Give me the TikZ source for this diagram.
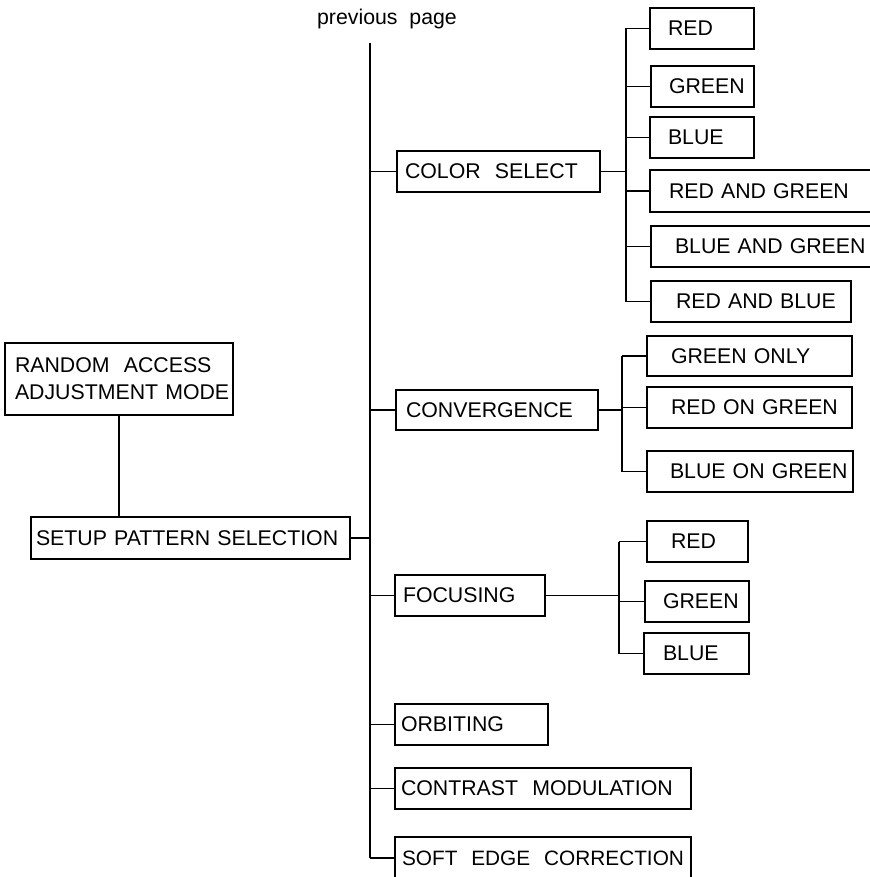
\documentclass[tikz,border=0pt]{standalone}
\usepackage{fontspec}
\setmainfont{Liberation Sans}
\tikzset{box/.style={draw, anchor=north west, inner sep=0pt, outer sep=0pt, align=left,
  execute at begin node={\leftskip=#1pt\rightskip=0pt minus 60pt\hyphenpenalty=10000}}}

\begin{document}
\begin{tikzpicture}[x=1pt, y=-1pt, line width=1.3pt, font=\fontsize{21.3}{27}\selectfont]
\useasboundingbox (0,0) rectangle (869,877);

\node[anchor=base, inner sep=0pt] (prev) at (387,25) {previous\ \ page};
\coordinate (top) at (370,43);

% left part
\node[box=10, text width=228pt, minimum height=72pt] (rand) at (5,343) {RANDOM\ \ ACCESS\\ADJUSTMENT MODE};
\node[box=5, text width=319pt, minimum height=42pt] (setup) at (31,517) {SETUP PATTERN SELECTION};
\draw (rand.south) -- (rand.south |- setup.north);
\draw (setup.east) -- (setup.east -| top);

% main branches
\node[box=8, text width=203pt, minimum height=41pt] (colsel) at (397,151) {COLOR\ \ SELECT};
\node[box=10, text width=202pt, minimum height=40pt] (conv) at (396,390) {CONVERGENCE};
\node[box=8, text width=150pt, minimum height=41pt] (focus) at (395,575) {FOCUSING};
\node[box=6, text width=153pt, minimum height=41pt] (orbit) at (395,704) {ORBITING};
\node[box=6, text width=296pt, minimum height=41pt] (contrast) at (395,768) {CONTRAST\ \ MODULATION};
\node[box=7, text width=296pt, minimum height=42pt, font=\fontsize{20.8}{27}\selectfont] (soft) at (395,837) {SOFT\ \ EDGE\ \ CORRECTION};
\draw (top) -- (soft.west -| top);
\foreach \n in {colsel,conv,focus,orbit,contrast,soft}
  \draw (\n.west) -- (\n.west -| top);

% color select
\coordinate (cbus) at (626,0);
\node[box=18, text width=104pt, minimum height=41pt] (red1) at (650,8) {RED};
\node[box=18, text width=103pt, minimum height=41pt] (green1) at (651,66) {GREEN};
\node[box=18, text width=104pt, minimum height=41pt] (blue1) at (650,117) {BLUE};
\node[box=19, text width=225pt, minimum height=42pt] (redgreen) at (650,170) {RED AND GREEN};
\node[box=24, text width=225pt, minimum height=41pt] (bluegreen) at (651,226) {BLUE AND GREEN};
\node[box=25, text width=200pt, minimum height=41pt] (redblue) at (651,281) {RED AND BLUE};
\draw (red1.west -| cbus) -- (redblue.west -| cbus);
\draw (colsel.east) -- (colsel.east -| cbus);
\foreach \n in {red1,green1,blue1,redgreen,bluegreen,redblue}
  \draw (\n.west) -- (\n.west -| cbus);

% convergence
\coordinate (vbus) at (622,0);
\node[box=24, text width=205pt, minimum height=40pt] (gonly) at (647,336) {GREEN ONLY};
\node[box=24, text width=205pt, minimum height=41pt] (rong) at (647,387) {RED ON GREEN};
\node[box=23, text width=206pt, minimum height=41pt] (bong) at (647,451) {BLUE ON GREEN};
\draw (gonly.west -| vbus) -- (bong.west -| vbus);
\draw (conv.east) -- (conv.east -| vbus);
\foreach \n in {gonly,rong,bong}
  \draw (\n.west) -- (\n.west -| vbus);

% focusing
\coordinate (fbus) at (619,0);
\node[box=24, text width=101pt, minimum height=41pt] (fred) at (647,521) {RED};
\node[box=18, text width=104pt, minimum height=41pt] (fgreen) at (645,581) {GREEN};
\node[box=19, text width=105pt, minimum height=41pt] (fblue) at (644,633) {BLUE};
\draw (fred.west -| fbus) -- (fblue.west -| fbus);
\draw (focus.east) -- (focus.east -| fbus);
\foreach \n in {fred,fgreen,fblue}
  \draw (\n.west) -- (\n.west -| fbus);

\end{tikzpicture}
\end{document}
